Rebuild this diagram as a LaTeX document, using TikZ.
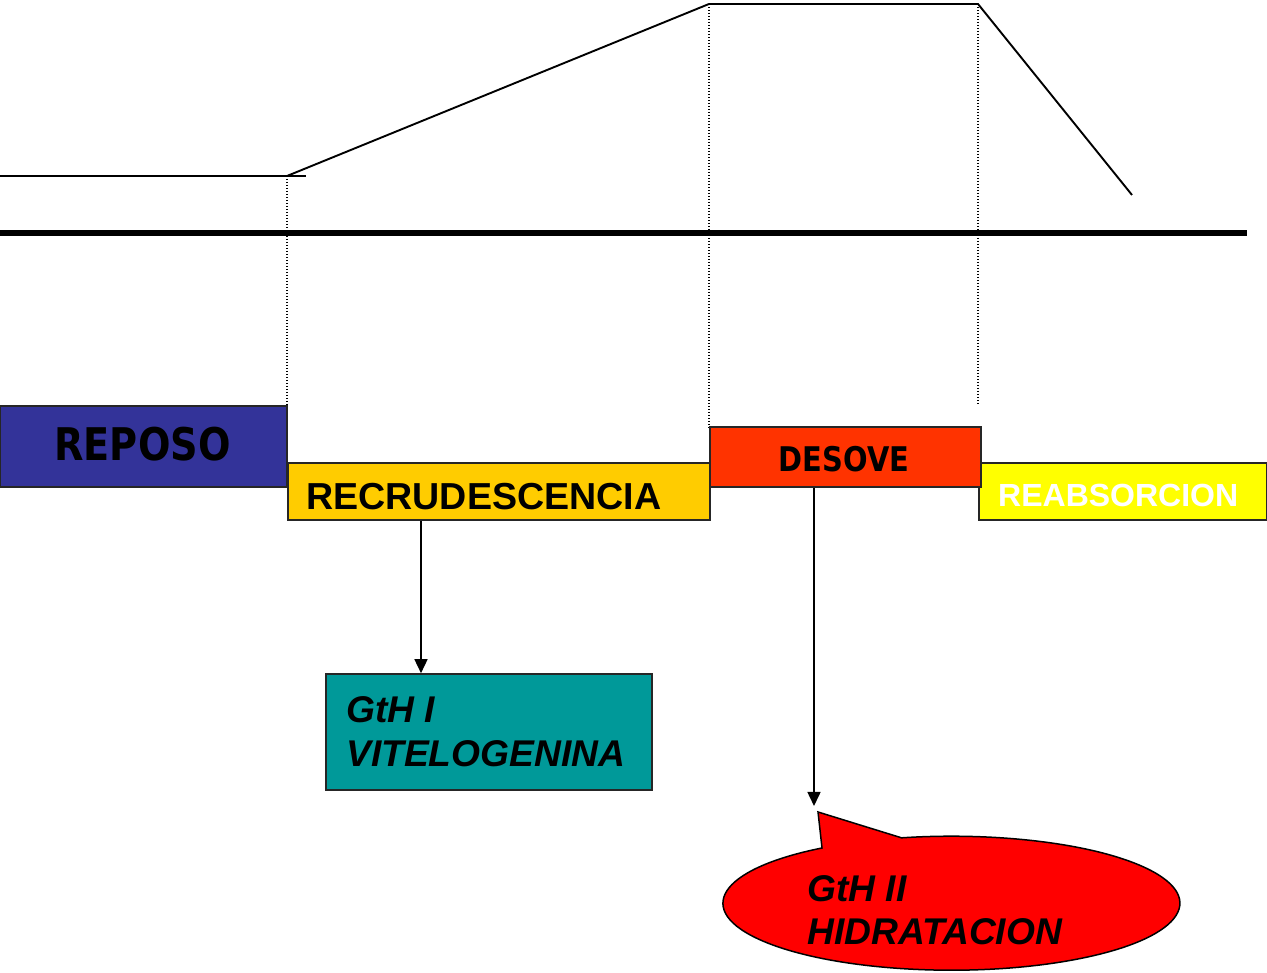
\documentclass[tikz,border=0pt]{standalone}
\usepackage{fontspec}
\usetikzlibrary{arrows.meta}
\newfontfamily\tah[FakeStretch=0.85]{DejaVu Sans}
\newfontfamily\ari{Liberation Sans}
\definecolor{cRep}{HTML}{333399}
\definecolor{cRec}{HTML}{FFCC00}
\definecolor{cDes}{HTML}{FF3300}
\definecolor{cRea}{HTML}{FFFF00}
\definecolor{cTeal}{HTML}{009999}
\definecolor{cRed}{HTML}{FF0000}
\begin{document}
\begin{tikzpicture}[x=1pt,y=1pt,
  box/.style={draw=black!85,line width=1.8pt,rectangle,inner sep=0pt,anchor=south west},
  curve/.style={line width=1.9pt,black},
  guide/.style={line width=1.3pt,dash pattern=on 1.3pt off 1.7pt,black},
  arr/.style={line width=1.6pt,-{Triangle[length=14pt,width=13pt]}},
  tahb/.style={font=\tah\bfseries\fontsize{45}{54}\selectfont,inner sep=0pt},
  arb/.style={font=\ari\bfseries\fontsize{37.6}{44}\selectfont,inner sep=0pt},
  ari/.style={font=\ari\bfseries\itshape\fontsize{37.2}{44}\selectfont,inner sep=0pt,anchor=base west}]
\useasboundingbox (0,0) rectangle (1267,973);
% curve
\draw[curve] (0,797) -- (306,797);
\draw[curve] (287,797) -- (709,969) -- (978,969) -- (1132,778);
\draw[line width=5.5pt] (0,740) -- (1247,740);
% guides
\draw[guide] (287,797) -- (287,568);
\draw[guide] (709,969) -- (709,545);
\draw[guide] (978,969) -- (978,568);
% boxes
\node[box,fill=cRep,minimum width=287pt,minimum height=81pt] (reposo) at (-1,485) {};
\node[box,fill=cRec,minimum width=422pt,minimum height=57pt] (recru) at (287,452) {};
\node[box,fill=cRea,minimum width=288pt,minimum height=57pt] (reabs) at (978,452) {};
\node[box,fill=cDes,minimum width=271pt,minimum height=60pt] (desove) at (709,485) {};
\node[box,fill=cTeal,minimum width=326pt,minimum height=116pt] (gth1) at (325,182) {};
% texts
\node[tahb,anchor=base] (treposo) at (142.5,512) {REPOSO};
\node[tahb,font=\tah\bfseries\fontsize{34}{40}\selectfont,anchor=base] (tdesove) at (844,501) {DESOVE};
\node[arb,anchor=base west] (trecru) at (306,463) {RECRUDESCENCIA};
\node[arb,font=\ari\bfseries\fontsize{32}{38}\selectfont,text=white,anchor=base west] (treabs) at (998,466) {REABSORCION};
\node[ari] (tg1) at (346,250) {GtH I};
\node[ari] (tg2) at (346,206) {VITELOGENINA};
% callout
\coordinate (calltip) at (814,167);
\filldraw[fill=cRed,draw=black,line width=1.5pt,line join=miter]
  (818,161) -- (822,125) arc[start angle=124.5,end angle=462.6,x radius=228.5,y radius=67] -- cycle;
\node[ari] (th1) at (807,71) {GtH II};
\node[ari] (th2) at (807,28) {HIDRATACION};
% arrows
\draw[arr] (recru.south west -| 421,0) -- (gth1.north west -| 421,0);
\draw[arr] (desove.south west -| 814,0) -- (calltip);
\end{tikzpicture}
\end{document}
